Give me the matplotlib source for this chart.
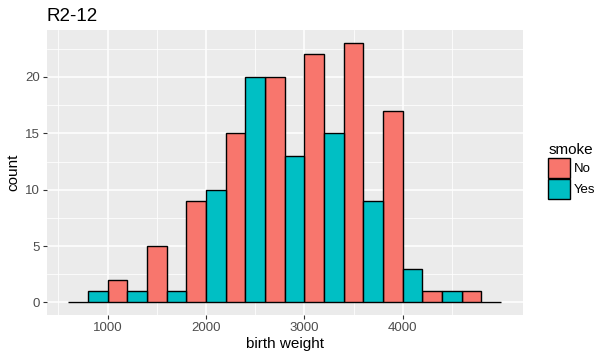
import numpy as np
import matplotlib
matplotlib.use("Agg")
import matplotlib.pyplot as plt
from matplotlib.patches import Patch

plt.rcParams["font.family"] = ["Liberation Sans", "DejaVu Sans"]

# histogram bins (left edges, width 400) and counts by smoking status
bin_left = [600, 1000, 1400, 1800, 2200, 2600, 3000, 3400, 3800, 4200, 4600]
no_counts = [0, 2, 5, 9, 15, 20, 22, 23, 17, 1, 1]
yes_counts = [1, 1, 1, 10, 20, 13, 15, 9, 3, 1, 0]
groups = ["No", "Yes"]
colors = ["#F8766D", "#00BFC4"]
x_ticks = [1000, 2000, 3000, 4000]
y_ticks = [0, 5, 10, 15, 20]

fig = plt.figure(figsize=(6.08, 3.63), dpi=100)
ax = fig.add_axes([0.0768, 0.131, 0.783, 0.786])
ax.set_facecolor("#EBEBEB")

left = np.array(bin_left)
ax.bar(left, no_counts, width=200, align="edge", color=colors[0],
       edgecolor="black", linewidth=1.0, zorder=3)
ax.bar(left + 200, yes_counts, width=200, align="edge", color=colors[1],
       edgecolor="black", linewidth=1.0, zorder=3)

# limits with ggplot-like expansion
ax.set_xlim(380, 5220)
ax.set_ylim(-1.15, 24.15)

ax.set_xticks(x_ticks)
ax.set_yticks(y_ticks)
ax.set_xticks([500, 1500, 2500, 3500, 4500], minor=True)
ax.set_yticks([2.5, 7.5, 12.5, 17.5, 22.5], minor=True)
ax.grid(True, which="major", color="white", linewidth=1.1, zorder=0)
ax.grid(True, which="minor", color="white", linewidth=0.55, zorder=0)
ax.set_axisbelow(True)
for s in ax.spines.values():
    s.set_visible(False)
ax.tick_params(which="major", length=3, width=0.8, color="#333333",
               labelcolor="#4D4D4D", labelsize=9.5, pad=2)
ax.tick_params(which="minor", length=0)

ax.set_xlabel("birth weight", fontsize=11, labelpad=2)
ax.set_ylabel("count", fontsize=11, labelpad=3)
fig.text(0.077, 0.955, "R2-12", fontsize=13.5, ha="left", va="center")

handles = [Patch(facecolor=c, edgecolor="black", linewidth=1.0) for c in colors]
leg = fig.legend(handles, groups, title="smoke", loc="upper left",
                 bbox_to_anchor=(0.893, 0.62), frameon=False, fontsize=9.5,
                 title_fontsize=11, handlelength=1.65, handleheight=2.0,
                 handletextpad=0.3, labelspacing=0.05, borderaxespad=0)
leg._legend_box.align = "left"

fig.savefig("out.png", dpi=100)
